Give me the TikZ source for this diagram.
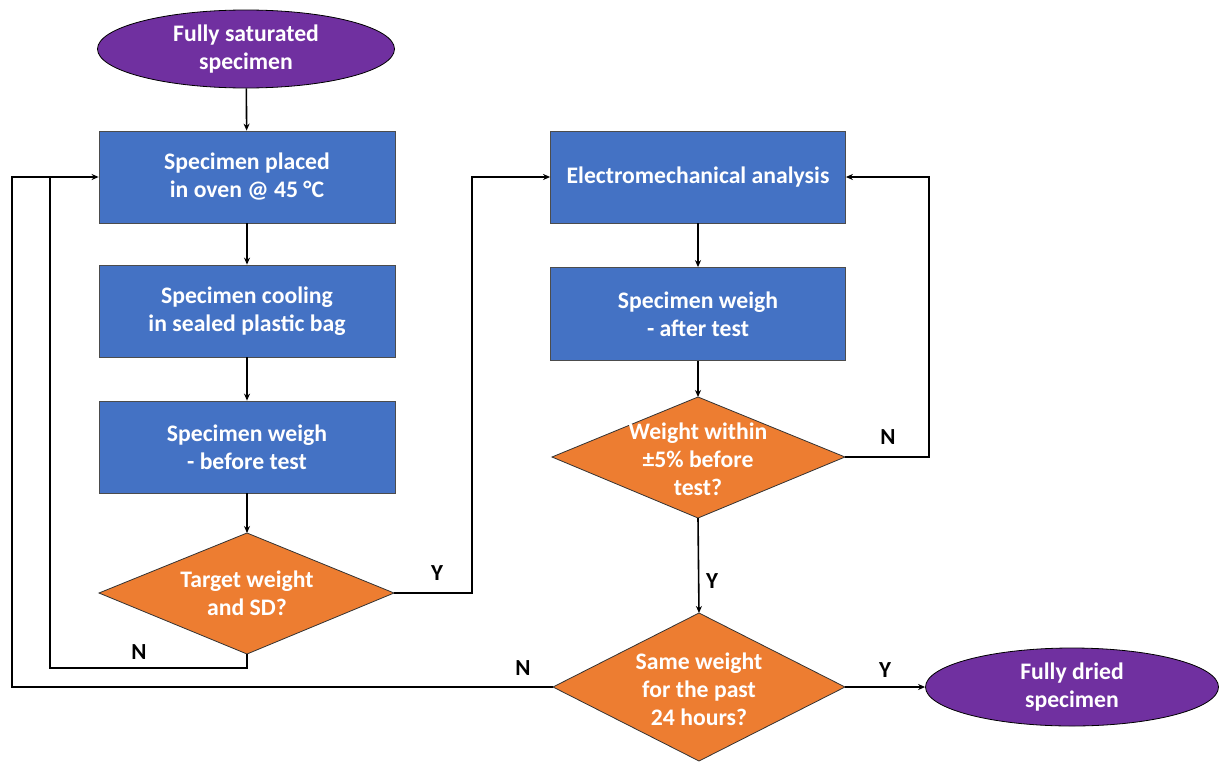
\documentclass[tikz,border=0pt]{standalone}
\usepackage{fontspec}
\setmainfont{Carlito}
\usetikzlibrary{shapes.geometric,arrows.meta}
\definecolor{cpurple}{HTML}{7030A0}
\definecolor{cblue}{HTML}{4472C4}
\definecolor{corange}{HTML}{ED7D31}
\begin{document}
\begin{tikzpicture}[x=1pt,y=-1pt,
  txt/.style={text=white,font=\fontsize{23.7}{28}\selectfont\bfseries,align=center},
  term/.style={txt,ellipse,fill=cpurple,draw=black,line width=0.8pt,inner sep=0pt,minimum width=297pt,minimum height=78pt},
  proc/.style={txt,rectangle,fill=cblue,draw=black!70,line width=0.8pt,minimum width=296pt,minimum height=92pt,inner sep=0pt},
  dec/.style={txt,fill=corange,draw=black!80,line width=0.8pt},
  conn/.style={line width=1.6pt,draw=black},
  arr/.style={conn,-{Stealth[length=7pt,width=6pt]}},
  lab/.style={font=\fontsize{23}{26}\selectfont\bfseries,text=black}]
\useasboundingbox (0,0) rectangle (1220,763);

\node[term] (start) at (246,49) {Fully saturated\\specimen};
\node[proc] (oven) at (247,177) {Specimen placed\\in oven @ 45 °C};
\node[proc] (cool) at (247,311) {Specimen cooling\\in sealed plastic bag};
\node[proc] (wb) at (247,447) {Specimen weigh\\- before test};
\path[dec] (247,533) -- (394,593) -- (247,654) -- (99,593) -- cycle;
\node[txt] (d1) at (247,593) {Target weight\\and SD?};
\coordinate (d1t) at (247,533);
\coordinate (d1r) at (394,593);
\coordinate (d1b) at (247,654);

\node[proc,minimum width=295pt] (ema) at (698,177) {Electromechanical analysis};
\node[proc,minimum width=295pt,minimum height=93pt] (wa) at (698,314) {Specimen weigh\\- after test};
\path[dec] (698,397) -- (845,457) -- (698,518) -- (552,457) -- cycle;
\node[txt] (d2) at (698,459) {Weight within\\±5\% before\\test?};
\coordinate (d2t) at (698,397);
\coordinate (d2r) at (845,457);
\coordinate (d2b) at (698,518);

\path[dec] (699,613) -- (845,687) -- (699,761) -- (553,687) -- cycle;
\node[txt] (d3) at (699,689) {Same weight\\for the past\\24 hours?};
\coordinate (d3t) at (699,613);
\coordinate (d3r) at (845,687);
\coordinate (d3l) at (553,687);

\node[term,minimum width=293pt] (end) at (1072,687) {Fully dried\\specimen};

\draw[arr] (start) -- (oven);
\draw[arr] (oven) -- (cool);
\draw[arr] (cool) -- (wb);
\draw[arr] (wb) -- (d1t);
\draw[arr] (d1r) -- (472,593) -- (472,177) -- (ema.west);
\draw[arr] (d1b) -- (247,668) -- (50,668) -- (50,177) -- (oven.west);
\draw[conn] (d3l) -- (12,687) -- (12,177) -- (50,177);
\draw[arr] (ema) -- (wa);
\draw[arr] (wa) -- (d2t);
\draw[arr] (d2r) -- (929,457) -- (929,177) -- (ema.east);
\draw[arr] (d2b) -- (d3t);
\draw[arr] (d3r) -- (end.west);

\node[lab] (ly1) at (437,573) {Y};
\node[lab] (ln1) at (139,652) {N};
\node[lab] (ln3) at (523,668) {N};
\node[lab] (ln2) at (888,437) {N};
\node[lab] (ly2) at (712,581) {Y};
\node[lab] (ly3) at (885,670) {Y};
\end{tikzpicture}
\end{document}
